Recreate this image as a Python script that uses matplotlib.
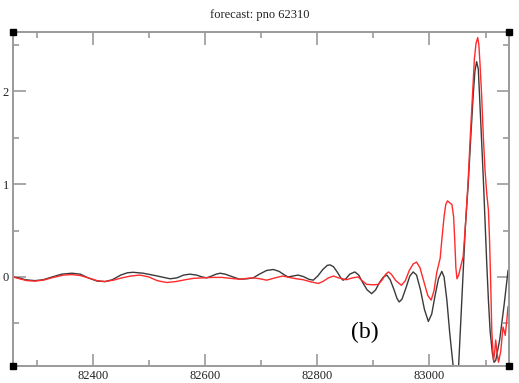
import matplotlib
matplotlib.use("Agg")
import matplotlib.pyplot as plt
from matplotlib.ticker import MultipleLocator

title = "forecast: pno 62310"
panel_label = "(b)"

# observed series (black)
obs_x = [82258, 82268, 82280, 82297, 82312, 82328, 82345, 82363, 82378, 82392,
         82408, 82422, 82435, 82450, 82462, 82472, 82490, 82515, 82538, 82550,
         82562, 82573, 82585, 82595, 82603, 82612, 82620, 82627, 82636, 82650,
         82662, 82675, 82686, 82697, 82710, 82722, 82732, 82742, 82748, 82757,
         82766, 82775, 82785, 82793, 82801, 82810, 82818, 82823, 82829, 82836,
         82842, 82846, 82851, 82858, 82867, 82874, 82881, 82889, 82897, 82904,
         82911, 82918, 82924, 82930, 82937, 82942, 82946, 82951, 82958, 82965,
         82971, 82977, 82984, 82991, 82998, 83004, 83010, 83016, 83022, 83026,
         83031, 83036, 83042, 83049, 83052, 83056, 83060, 83064, 83069, 83074,
         83078, 83081, 83084, 83087, 83090, 83093, 83096, 83099, 83102, 83105,
         83108, 83112, 83115, 83118, 83125, 83133, 83140]
obs_y = [0.00, -0.01, -0.03, -0.04, -0.03, 0.00, 0.03, 0.04, 0.03, -0.01,
         -0.045, -0.05, -0.03, 0.02, 0.045, 0.05, 0.04, 0.01, -0.02, -0.01,
         0.02, 0.03, 0.02, 0.00, -0.01, 0.01, 0.03, 0.04, 0.03, 0.00,
         -0.025, -0.02, -0.01, 0.03, 0.07, 0.08, 0.06, 0.02, 0.00, 0.01,
         0.02, 0.005, -0.025, -0.035, 0.01, 0.08, 0.125, 0.13, 0.11, 0.05,
         -0.01, -0.035, -0.02, 0.03, 0.054, 0.02, -0.06, -0.14, -0.18, -0.14,
         -0.06, 0.00, 0.02, -0.03, -0.14, -0.23, -0.27, -0.24, -0.12, 0.01,
         0.054, 0.02, -0.14, -0.35, -0.48, -0.40, -0.20, -0.02, 0.06, 0.00,
         -0.25, -0.60, -0.95, -1.15, -0.95, -0.45, 0.05, 0.55, 1.00, 1.55,
         1.97, 2.22, 2.32, 2.24, 1.85, 1.45, 1.05, 0.60, 0.15, -0.25,
         -0.58, -0.82, -0.92, -0.90, -0.68, -0.30, 0.07]

# forecast series (red)
fc_x = [82258, 82270, 82283, 82297, 82312, 82330, 82348, 82363, 82378, 82392,
        82408, 82422, 82437, 82452, 82468, 82484, 82500, 82515, 82532, 82548,
        82565, 82580, 82596, 82615, 82630, 82645, 82662, 82675, 82686, 82698,
        82710, 82725, 82739, 82750, 82763, 82775, 82790, 82802, 82810, 82820,
        82829, 82838, 82852, 82863, 82873, 82880, 82888, 82900, 82909, 82916,
        82922, 82927, 82932, 82940, 82950, 82957, 82964, 82971, 82977, 82983,
        82990, 82997, 83003, 83008, 83013, 83019, 83022, 83026, 83029, 83032,
        83036, 83040, 83043, 83045, 83047, 83049, 83052, 83056, 83060, 83064,
        83069, 83073, 83077, 83080, 83083, 83086, 83088, 83090, 83093, 83096,
        83099, 83102, 83105, 83107, 83109, 83111, 83114, 83116, 83118, 83120,
        83123, 83127, 83131, 83133, 83135, 83138, 83140]
fc_y = [0.00, -0.02, -0.04, -0.045, -0.035, -0.005, 0.02, 0.025, 0.015, -0.01,
        -0.04, -0.05, -0.035, -0.01, 0.01, 0.02, 0.00, -0.04, -0.06, -0.05,
        -0.03, -0.015, -0.01, -0.005, -0.005, -0.015, -0.025, -0.015, -0.01, -0.02,
        -0.035, -0.01, 0.01, -0.005, -0.02, -0.03, -0.055, -0.07, -0.05, -0.01,
        0.01, -0.01, -0.03, -0.01, 0.00, -0.04, -0.08, -0.085, -0.08, -0.03,
        0.03, 0.054, 0.03, -0.04, -0.09, -0.04, 0.07, 0.14, 0.16, 0.10,
        -0.05, -0.20, -0.25, -0.15, 0.05, 0.20, 0.40, 0.65, 0.78, 0.82,
        0.80, 0.78, 0.65, 0.40, 0.10, -0.02, 0.02, 0.12, 0.22, 0.55,
        1.05, 1.55, 2.00, 2.35, 2.52, 2.58, 2.50, 2.30, 1.95, 1.50,
        1.15, 0.90, 0.72, 0.40, -0.05, -0.58, -0.90, -0.82, -0.68, -0.80,
        -0.92, -0.80, -0.54, -0.58, -0.63, -0.45, -0.32]

x_major = [82400, 82600, 82800, 83000]
y_major = [0, 1, 2]

plt.rcParams["font.family"] = ["Liberation Serif", "DejaVu Serif"]

fig = plt.figure(figsize=(5.19, 3.83), dpi=100)
ax = fig.add_axes([0.025, 0.0444, 0.955, 0.872])

ax.plot(obs_x, obs_y, color="#3a3a3a", lw=1.0)
ax.plot(fc_x, fc_y, color="#ff2a2a", lw=1.0)

ax.set_xlim(82258, 83141)
ax.set_ylim(-0.96, 2.64)

ax.set_xticks(x_major)
ax.set_yticks(y_major)
ax.xaxis.set_minor_locator(MultipleLocator(100))
ax.yaxis.set_minor_locator(MultipleLocator(0.5))

spine_col = "#9a9a9a"
for s in ax.spines.values():
    s.set_color(spine_col)
    s.set_linewidth(1.4)
ax.tick_params(which="both", direction="in", top=True, right=True,
               color=spine_col, width=1.2, labelsize=9, labelcolor="#222222")
ax.tick_params(which="major", length=9, pad=3)
ax.tick_params(which="minor", length=4.5)
ax.tick_params(axis="y", pad=3)

# corner handles
for cx, cy in [(0, 0), (0, 1), (1, 0), (1, 1)]:
    ax.plot([cx], [cy], marker="s", markersize=4, color="black",
            transform=ax.transAxes, clip_on=False, zorder=5)

fig.text(0.5, 0.962, title, ha="center", va="center", fontsize=9, color="#222222")
ax.text(82885, -0.60, panel_label, ha="center", va="center", fontsize=17, color="black")

fig.savefig("out.png", dpi=100)
